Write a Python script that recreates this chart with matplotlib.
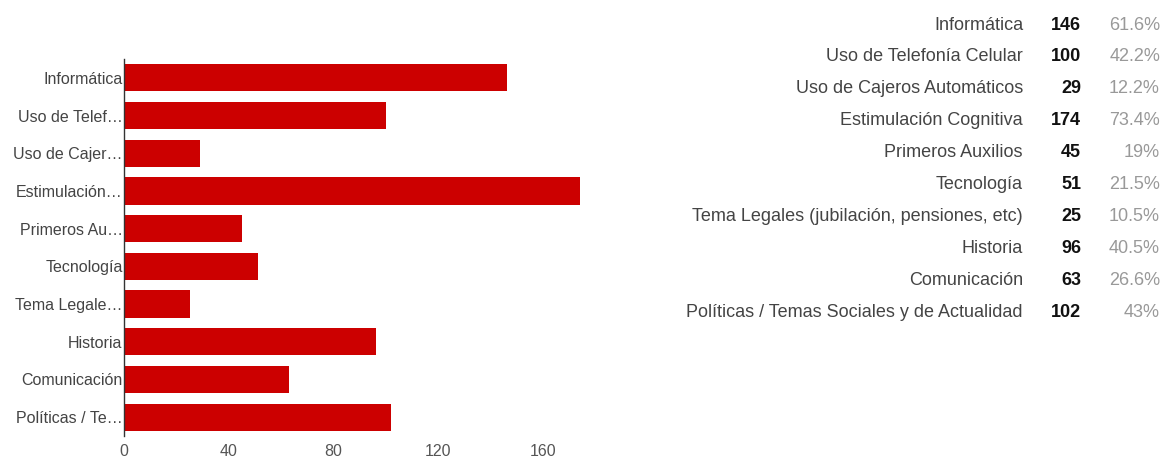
import matplotlib
matplotlib.use("Agg")
import matplotlib.pyplot as plt

plt.rcParams['font.family'] = ['Liberation Sans', 'DejaVu Sans']

# data
short_labels = ["Informática", "Uso de Telef…", "Uso de Cajer…", "Estimulación…",
                "Primeros Au…", "Tecnología", "Tema Legale…", "Historia",
                "Comunicación", "Políticas / Te…"]
full_labels = ["Informática", "Uso de Telefonía Celular", "Uso de Cajeros Automáticos",
               "Estimulación Cognitiva", "Primeros Auxilios", "Tecnología",
               "Tema Legales (jubilación, pensiones, etc)", "Historia",
               "Comunicación", "Políticas / Temas Sociales y de Actualidad"]
counts = [146, 100, 29, 174, 45, 51, 25, 96, 63, 102]
percents = ["61.6%", "42.2%", "12.2%", "73.4%", "19%", "21.5%", "10.5%",
            "40.5%", "26.6%", "43%"]
xticks = [0, 40, 80, 120, 160]

W, H = 1164, 459
fig = plt.figure(figsize=(W / 100, H / 100), dpi=100)

# bar chart, placed in pixel coords
ax_l, ax_r, ax_t, ax_b = 124, 648, 59, 436
ax = fig.add_axes([ax_l / W, 1 - ax_b / H, (ax_r - ax_l) / W, (ax_b - ax_t) / H])
ypos = list(range(len(counts)))
ax.barh(ypos, counts, height=0.72, color="#cc0000")
ax.set_ylim(len(counts) - 0.5, -0.5)
ax.set_xlim(0, 200)
ax.set_yticks(ypos)
ax.set_yticklabels(short_labels, fontsize=11.5, color="#444444")
ax.set_xticks(xticks)
ax.set_xticklabels([str(t) for t in xticks], fontsize=11.5, color="#555555")
ax.tick_params(length=0, pad=1)
ax.tick_params(axis='x', pad=6)
for s in ["top", "right", "bottom"]:
    ax.spines[s].set_visible(False)
ax.spines["left"].set_color("#333333")
ax.spines["left"].set_linewidth(1)

# table on the right
row0, step = 25, 31.9
for i in range(len(full_labels)):
    y = 1 - (row0 + i * step) / H
    fig.text(1023 / W, y, full_labels[i], ha="right", va="center",
             fontsize=13, color="#444444")
    fig.text(1081 / W, y, str(counts[i]), ha="right", va="center",
             fontsize=13, color="#111111", fontweight="bold")
    fig.text(1160 / W, y, percents[i], ha="right", va="center",
             fontsize=13, color="#999999")

fig.savefig("out.png", dpi=100, facecolor="white")
